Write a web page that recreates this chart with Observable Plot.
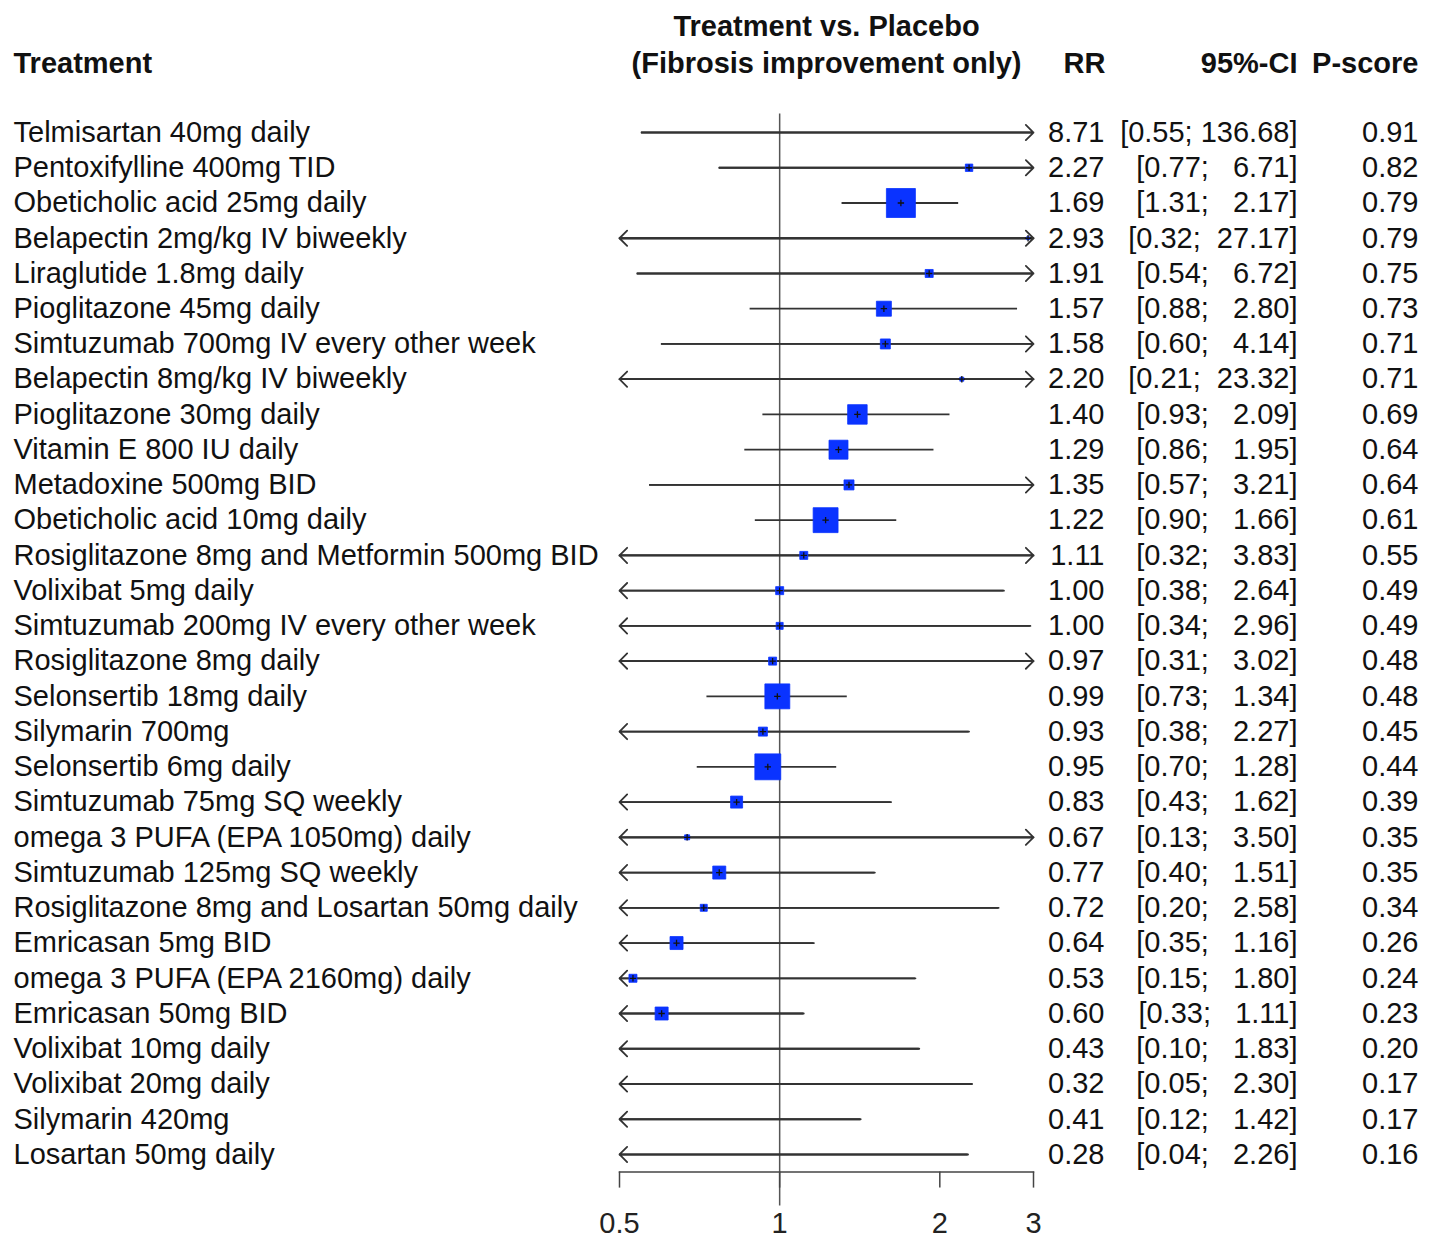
<!DOCTYPE html>
<html>
<head>
<meta charset="utf-8">
<script src="https://cdn.jsdelivr.net/npm/d3@7"></script>
<script src="https://cdn.jsdelivr.net/npm/@observablehq/plot@0.6"></script>
<style>
  html, body { margin: 0; padding: 0; background: #fff; }
  #chart svg { display: block; font-family: "Liberation Sans", Arial, sans-serif; }
</style>
</head>
<body>
<div id="chart"></div>
<script>
const treatments = [
  "Telmisartan 40mg daily",
  "Pentoxifylline 400mg TID",
  "Obeticholic acid 25mg daily",
  "Belapectin 2mg/kg IV biweekly",
  "Liraglutide 1.8mg daily",
  "Pioglitazone 45mg daily",
  "Simtuzumab 700mg IV every other week",
  "Belapectin 8mg/kg IV biweekly",
  "Pioglitazone 30mg daily",
  "Vitamin E 800 IU daily",
  "Metadoxine 500mg BID",
  "Obeticholic acid 10mg daily",
  "Rosiglitazone 8mg and Metformin 500mg BID",
  "Volixibat 5mg daily",
  "Simtuzumab 200mg IV every other week",
  "Rosiglitazone 8mg daily",
  "Selonsertib 18mg daily",
  "Silymarin 700mg",
  "Selonsertib 6mg daily",
  "Simtuzumab 75mg SQ weekly",
  "omega 3 PUFA (EPA 1050mg) daily",
  "Simtuzumab 125mg SQ weekly",
  "Rosiglitazone 8mg and Losartan 50mg daily",
  "Emricasan 5mg BID",
  "omega 3 PUFA (EPA 2160mg) daily",
  "Emricasan 50mg BID",
  "Volixibat 10mg daily",
  "Volixibat 20mg daily",
  "Silymarin 420mg",
  "Losartan 50mg daily"
];
const rr     = [8.71, 2.27, 1.69, 2.93, 1.91, 1.57, 1.58, 2.20, 1.40, 1.29, 1.35, 1.22, 1.11, 1.00, 1.00, 0.97, 0.99, 0.93, 0.95, 0.83, 0.67, 0.77, 0.72, 0.64, 0.53, 0.60, 0.43, 0.32, 0.41, 0.28];
const lower  = [0.55, 0.77, 1.31, 0.32, 0.54, 0.88, 0.60, 0.21, 0.93, 0.86, 0.57, 0.90, 0.32, 0.38, 0.34, 0.31, 0.73, 0.38, 0.70, 0.43, 0.13, 0.40, 0.20, 0.35, 0.15, 0.33, 0.10, 0.05, 0.12, 0.04];
const upper  = [136.68, 6.71, 2.17, 27.17, 6.72, 2.80, 4.14, 23.32, 2.09, 1.95, 3.21, 1.66, 3.83, 2.64, 2.96, 3.02, 1.34, 2.27, 1.28, 1.62, 3.50, 1.51, 2.58, 1.16, 1.80, 1.11, 1.83, 2.30, 1.42, 2.26];
const pscore = [0.91, 0.82, 0.79, 0.79, 0.75, 0.73, 0.71, 0.71, 0.69, 0.64, 0.64, 0.61, 0.55, 0.49, 0.49, 0.48, 0.48, 0.45, 0.44, 0.39, 0.35, 0.35, 0.34, 0.26, 0.24, 0.23, 0.20, 0.17, 0.17, 0.16];
// relative weights (box area)
const weight = [1, 5.5, 84, 0.9, 6.4, 22.5, 10, 1.6, 38, 36, 10, 62, 6.4, 6.4, 4.9, 6.4, 62, 8.1, 67, 14.4, 2.5, 16.9, 4.9, 16.9, 6.4, 16.9, 3, 2, 4, 2];

const xTicks = [0.5, 1, 2, 3];
const titleLines = ["Treatment vs. Placebo", "(Fibrosis improvement only)"];
const headTreatment = ["Treatment"];
const headRR = ["RR"];
const headCI = ["95%-CI"];
const headP = ["P-score"];

const xMin = 0.5, xMax = 3;
const NB = "\u00A0";
const rows = treatments.map((t, i) => {
  const up = upper[i].toFixed(2);
  return {
    t,
    rr: rr[i],
    lo: lower[i],
    hi: upper[i],
    p: pscore[i],
    w: weight[i],
    xlo: Math.max(lower[i], xMin),
    xhi: Math.min(upper[i], xMax),
    ci: "[" + lower[i].toFixed(2) + ";" + NB + NB.repeat(6 - up.length) + up + "]"
  };
});
const inDomain = rows.filter(d => d.rr >= xMin && d.rr <= xMax);

const plusSymbol = {
  draw(context, size) {
    const s = Math.sqrt(size / Math.PI);
    context.moveTo(-s, 0); context.lineTo(s, 0);
    context.moveTo(0, -s); context.lineTo(0, s);
  }
};

const FS = 29;
const chart = Plot.plot({
  width: 1438,
  height: 1236,
  marginLeft: 619,
  marginRight: 405,
  marginTop: 114.4,
  marginBottom: 64.4,
  style: { fontFamily: "'Liberation Sans', Arial, sans-serif", background: "#fff", overflow: "visible" },
  x: { type: "log", domain: [xMin, xMax], axis: null },
  y: { type: "point", domain: treatments, padding: 0.5, round: false, axis: null },
  r: { type: "sqrt", domain: [0, d3.max(weight)], range: [0, 29 / Math.sqrt(Math.PI)] },
  marks: [
    Plot.ruleX([1], { stroke: "#555", strokeWidth: 1.5, insetTop: -1, insetBottom: -34 }),
    Plot.frame({ anchor: "bottom", stroke: "#444", strokeWidth: 1.5 }),
    Plot.axisX({ ticks: xTicks, tickFormat: d => String(d), tickSize: 16, tickPadding: 24, fontSize: FS, stroke: "#444", strokeWidth: 1.5, fill: "#222" }),
    Plot.ruleY(rows, { y: "t", x1: "xlo", x2: "xhi", stroke: "#333", strokeWidth: 1.8 }),
    Plot.arrow(rows.filter(d => d.hi > xMax), { x1: "xlo", x2: "xhi", y1: "t", y2: "t", stroke: "#333", strokeWidth: 1.8, headLength: 9, headAngle: 90 }),
    Plot.arrow(rows.filter(d => d.lo < xMin), { x1: "xhi", x2: "xlo", y1: "t", y2: "t", stroke: "#333", strokeWidth: 1.8, headLength: 9, headAngle: 90 }),
    Plot.dot(inDomain, { x: "rr", y: "t", r: "w", symbol: "square", fill: "#0a33ff", stroke: "#0a33ff", strokeWidth: 0.8 }),
    Plot.dot(inDomain, { x: "rr", y: "t", r: 3.2, symbol: plusSymbol, stroke: "#111", strokeWidth: 1.3, fill: "none" }),
    Plot.text(rows, { y: "t", text: "t", frameAnchor: "left", dx: -606, textAnchor: "start", fontSize: FS, fill: "#111" }),
    Plot.text(rows, { y: "t", text: d => d.rr.toFixed(2), frameAnchor: "right", dx: 71, textAnchor: "end", fontSize: FS, fill: "#111" }),
    Plot.text(rows, { y: "t", text: "ci", frameAnchor: "right", dx: 264, textAnchor: "end", fontSize: FS, fill: "#111" }),
    Plot.text(rows, { y: "t", text: d => d.p.toFixed(2), frameAnchor: "right", dx: 385, textAnchor: "end", fontSize: FS, fill: "#111" }),
    Plot.text([titleLines.join("\n")], { frameAnchor: "top", dy: -42, lineAnchor: "bottom", lineHeight: 1.276, textAnchor: "middle", fontSize: FS, fontWeight: "bold", fill: "#111" }),
    Plot.text(headTreatment, { frameAnchor: "top-left", dx: -606, dy: -42, lineAnchor: "bottom", textAnchor: "start", fontSize: FS, fontWeight: "bold", fill: "#111" }),
    Plot.text(headRR, { frameAnchor: "top-right", dx: 72, dy: -42, lineAnchor: "bottom", textAnchor: "end", fontSize: FS, fontWeight: "bold", fill: "#111" }),
    Plot.text(headCI, { frameAnchor: "top-right", dx: 264, dy: -42, lineAnchor: "bottom", textAnchor: "end", fontSize: FS, fontWeight: "bold", fill: "#111" }),
    Plot.text(headP, { frameAnchor: "top-right", dx: 385, dy: -42, lineAnchor: "bottom", textAnchor: "end", fontSize: FS, fontWeight: "bold", fill: "#111" })
  ]
});
document.getElementById("chart").appendChild(chart);
</script>
</body>
</html>
